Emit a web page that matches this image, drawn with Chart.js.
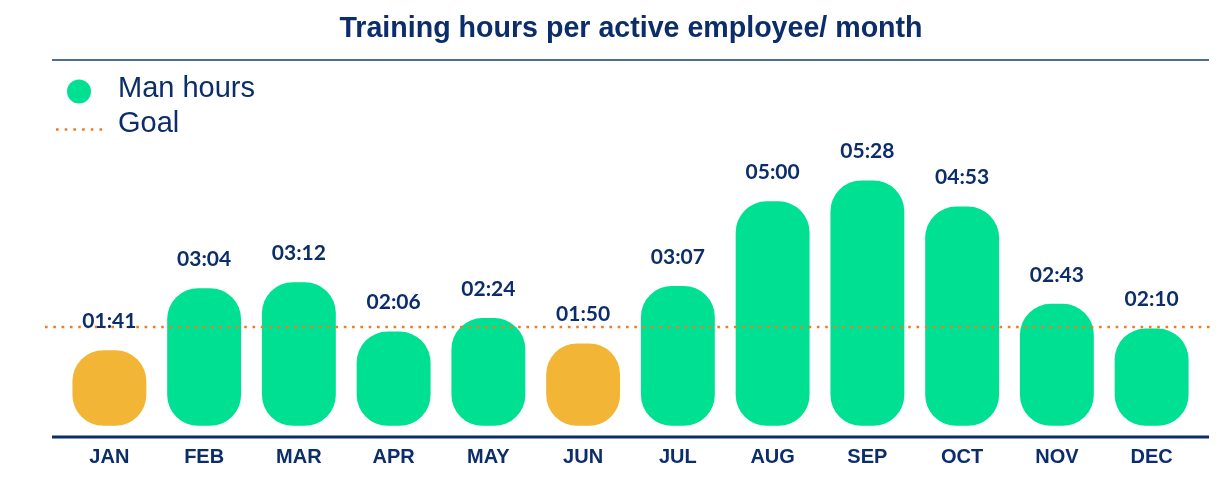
<!DOCTYPE html>
<html>
<head>
<meta charset="utf-8">
<script src="https://cdn.jsdelivr.net/npm/chart.js@4.4.1/dist/chart.umd.min.js"></script>
<style>
  html, body { margin: 0; padding: 0; background: #ffffff; }
  #wrap { position: relative; width: 1219px; height: 480px; }
</style>
</head>
<body>
<div id="wrap"><canvas id="c"></canvas></div>
<script>
// ---- data ----
const TITLE = 'Training hours per active employee/ month';
const months = ['JAN','FEB','MAR','APR','MAY','JUN','JUL','AUG','SEP','OCT','NOV','DEC'];
// training minutes per active employee (labels read as hh:mm)
const manMinutes = [101, 184, 192, 126, 144, 110, 187, 300, 328, 293, 163, 130];
const goalMinutes = [132];            // goal line position
const minimumMinutes = [120];         // months below 2 h are flagged in amber
const seriesNames = ['Man hours', 'Goal'];

// ---- styles ----
const NAVY = '#0c2d6b';
const GREEN = '#00e093';
const AMBER = '#f2b536';
const ORANGE = '#f07a26';
const RULE = '#4f6b99';

function fmt(m) {
  const h = Math.floor(m / 60), mm = m % 60;
  return String(h).padStart(2, '0') + ':' + String(mm).padStart(2, '0');
}

const deco = {
  id: 'deco',
  afterDraw(chart) {
    const ctx = chart.ctx;
    const x = chart.scales.x, y = chart.scales.y;
    ctx.save();
    // title
    ctx.fillStyle = NAVY;
    ctx.font = 'bold 28.6px "Liberation Sans", Arial, sans-serif';
    ctx.textAlign = 'center';
    ctx.textBaseline = 'alphabetic';
    ctx.fillText(TITLE, 631, 37);
    // rule under title
    ctx.strokeStyle = RULE;
    ctx.lineWidth = 2;
    ctx.beginPath(); ctx.moveTo(52, 60); ctx.lineTo(1209, 60); ctx.stroke();
    // legend
    ctx.fillStyle = GREEN;
    ctx.beginPath(); ctx.arc(79, 91.5, 12, 0, Math.PI * 2); ctx.fill();
    ctx.strokeStyle = ORANGE;
    ctx.lineWidth = 2.6;
    ctx.setLineDash([2.6, 6.1]);
    ctx.beginPath(); ctx.moveTo(56, 129.5); ctx.lineTo(104, 129.5); ctx.stroke();
    ctx.setLineDash([]);
    ctx.fillStyle = NAVY;
    ctx.textAlign = 'left';
    ctx.font = '29px "Liberation Sans", Arial, sans-serif';
    ctx.fillText(seriesNames[0], 118, 97);
    ctx.fillText(seriesNames[1], 118, 132);
    // x axis baseline
    ctx.strokeStyle = NAVY;
    ctx.lineWidth = 3;
    ctx.beginPath(); ctx.moveTo(52, x.top); ctx.lineTo(1209, x.top); ctx.stroke();
    // goal line
    const gy = y.getPixelForValue(goalMinutes[0]);
    ctx.strokeStyle = ORANGE;
    ctx.lineWidth = 2.6;
    ctx.setLineDash([2.6, 5.7]);
    ctx.beginPath(); ctx.moveTo(45, gy); ctx.lineTo(1213, gy); ctx.stroke();
    ctx.setLineDash([]);
    // value labels
    const meta = chart.getDatasetMeta(0);
    ctx.fillStyle = NAVY;
    ctx.font = 'bold 21px Lato, "Open Sans", sans-serif';
    ctx.textAlign = 'center';
    ctx.textBaseline = 'middle';
    meta.data.forEach((bar, i) => {
      ctx.fillText(fmt(manMinutes[i]), bar.x, bar.y - 29);
    });
    ctx.restore();
  }
};

new Chart(document.getElementById('c'), {
  type: 'bar',
  data: {
    labels: months,
    datasets: [{
      label: seriesNames[0],
      data: manMinutes,
      backgroundColor: ctx => (ctx.raw < minimumMinutes[0] ? AMBER : GREEN),
      borderWidth: 0,
      borderRadius: 31,
      borderSkipped: false,
      barPercentage: 0.78,
      categoryPercentage: 1.0
    }]
  },
  options: {
    responsive: true,
    maintainAspectRatio: false,
    animation: false,
    layout: { padding: { top: 140, left: 62, right: 20, bottom: 0 } },
    plugins: {
      legend: { display: false },
      title: { display: false },
      tooltip: { enabled: false }
    },
    scales: {
      x: {
        grid: { display: false, drawTicks: false },
        border: { display: false },
        ticks: {
          padding: 8,
          color: NAVY,
          font: { family: '"Liberation Sans", Arial, sans-serif', size: 20, weight: 'bold' }
        },
        afterFit: s => { s.height = 43; }
      },
      y: {
        display: false,
        min: -15,
        max: 382
      }
    }
  },
  plugins: [deco]
});
</script>
</body>
</html>
